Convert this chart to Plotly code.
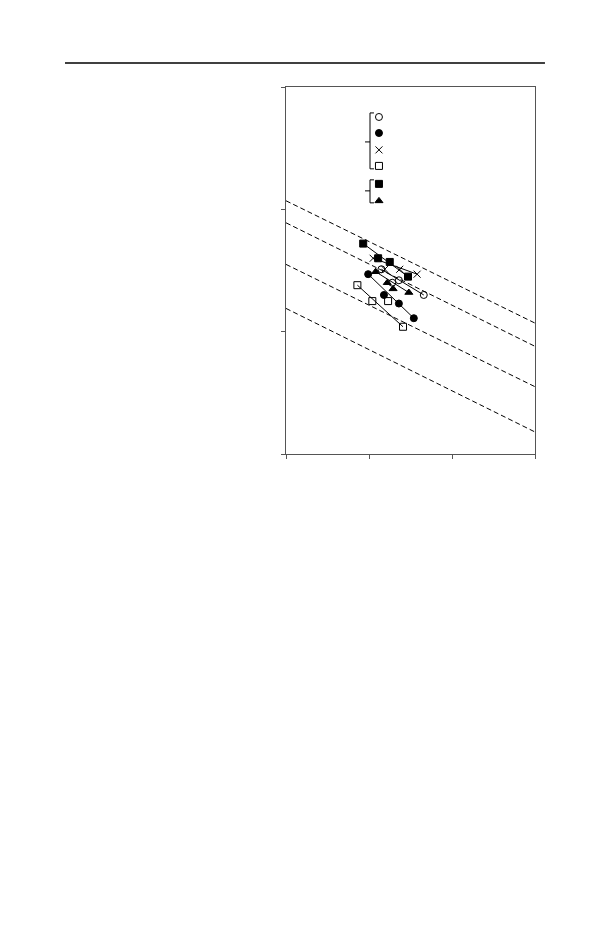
import plotly.graph_objects as go

# series data (axis units, 4 points each)
sq_f_x = [0.93, 1.11, 1.25, 1.47]
sq_f_y = [1.72, 1.60, 1.57, 1.45]
cross_x = [1.05, 1.19, 1.37, 1.58]
cross_y = [1.60, 1.51, 1.51, 1.47]
circ_o_x = [1.15, 1.28, 1.36, 1.66]
circ_o_y = [1.51, 1.40, 1.42, 1.30]
tri_x = [1.08, 1.22, 1.29, 1.48]
tri_y = [1.49, 1.40, 1.35, 1.32]
circ_f_x = [0.99, 1.18, 1.36, 1.54]
circ_f_y = [1.47, 1.30, 1.23, 1.11]
sq_o_x = [0.86, 1.04, 1.23, 1.41]
sq_o_y = [1.38, 1.25, 1.25, 1.04]

# dashed reference lines: value at x=0 and x=3
ref_x = [0, 3]
ref_lines = [[2.07, 1.07], [1.89, 0.88], [1.55, 0.55], [1.19, 0.18]]

# legend symbols, top to bottom
leg_symbols = ['circle-open', 'circle', 'x-thin-open', 'square-open', 'square', 'triangle-up']
leg_y = [2.755, 2.624, 2.486, 2.355, 2.208, 2.069]

fig = go.Figure()

for ys in ref_lines:
    fig.add_trace(go.Scatter(x=ref_x, y=ys, mode='lines',
                             line=dict(color='black', width=1, dash='5px,3px'),
                             showlegend=False))

series = [
    (sq_f_x, sq_f_y, 'square'),
    (cross_x, cross_y, 'x-thin-open'),
    (circ_o_x, circ_o_y, 'circle-open'),
    (tri_x, tri_y, 'triangle-up'),
    (circ_f_x, circ_f_y, 'circle'),
    (sq_o_x, sq_o_y, 'square-open'),
]
for xs, ys, sym in series:
    # straight line from first to last point
    fig.add_trace(go.Scatter(x=[xs[0], xs[-1]], y=[ys[0], ys[-1]], mode='lines',
                             line=dict(color='black', width=1), showlegend=False))
    fig.add_trace(go.Scatter(x=xs, y=ys, mode='markers',
                             marker=dict(symbol=sym, size=7, color='black',
                                         line=dict(color='black', width=1)),
                             showlegend=False))

# legend markers
fig.add_trace(go.Scatter(x=[1.12] * len(leg_y), y=leg_y, mode='markers',
                         marker=dict(symbol=leg_symbols, size=7, color='black',
                                     line=dict(color='black', width=1)),
                         showlegend=False))

shapes = []
# brackets
for top, bot, mid in [(2.788, 2.331, 2.551), (2.241, 2.053, 2.151)]:
    shapes.append(dict(type='path', xref='x', yref='y',
                       path=f'M 1.06 {top} L 1.012 {top} L 1.012 {bot} L 1.06 {bot}',
                       line=dict(color='black', width=1)))
    shapes.append(dict(type='line', xref='x', yref='y', x0=0.952, x1=1.012, y0=mid, y1=mid,
                       line=dict(color='black', width=1)))
# page rule
shapes.append(dict(type='line', xref='paper', yref='paper', x0=-0.8876, x1=1.04,
                   y0=1.0653, y1=1.0653, line=dict(color='black', width=1.5)))

axis_common = dict(showgrid=False, zeroline=False, showticklabels=False,
                   ticks='outside', ticklen=4, tickcolor='#555', tickwidth=1,
                   showline=True, linecolor='#555', linewidth=1, mirror=True)

fig.update_layout(
    width=602, height=917,
    margin=dict(l=278, r=75, t=79, b=470.5),
    paper_bgcolor='white', plot_bgcolor='white',
    xaxis=dict(range=[0, 3], tickvals=[0, 1, 2, 3], **axis_common),
    yaxis=dict(range=[0, 3], tickvals=[0, 1, 2, 3], **axis_common),
    shapes=shapes,
    showlegend=False,
)

fig.write_html("out.html")
